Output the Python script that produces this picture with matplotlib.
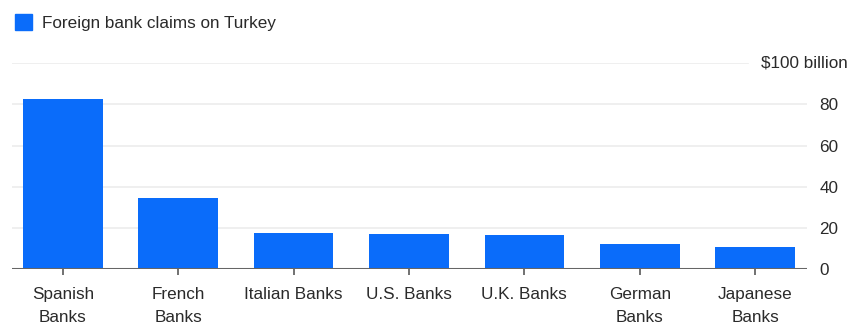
import matplotlib
matplotlib.use("Agg")
import matplotlib.pyplot as plt
from matplotlib.patches import Patch

# data ($ billion)
banks = ["Spanish\nBanks", "French\nBanks", "Italian Banks", "U.S. Banks",
         "U.K. Banks", "German\nBanks", "Japanese\nBanks"]
claims = [82.7, 34.4, 17.8, 17.1, 16.6, 12.5, 10.7]
yticks = [0, 20, 40, 60, 80]
legend_label = "Foreign bank claims on Turkey"
top_label = "$100 billion"

blue = "#0a6cfa"
text_col = "#2a2a2a"
fs = 12.3

plt.rcParams["font.family"] = ["Liberation Sans", "DejaVu Sans"]

W, H = 861, 322
fig = plt.figure(figsize=(W / 100, H / 100), dpi=100)
left, right = 12, 807
bottom, top = 269.3, 63
ax = fig.add_axes([left / W, (H - bottom) / H, (right - left) / W, (bottom - top) / H])

x = range(len(banks))
ax.bar(x, claims, width=0.69, color=blue, zorder=3)

ax.set_xlim(-0.44, 6.45)
ax.set_ylim(0, 100)

# gridlines
for v in yticks[1:]:
    ax.axhline(v, color="#ececec", lw=1.2, zorder=1)
ax.axhline(100, xmax=(748 - left) / (right - left), color="#ececec", lw=1.2, zorder=1)
ax.axhline(0, color="#666666", lw=2.2, zorder=4)

ax.set_xticks(list(x))
ax.set_xticklabels(banks, fontsize=fs, color=text_col, linespacing=1.65,
                   va="top")
ax.tick_params(axis="x", length=4, width=1.3, color="#666666", pad=9)

ax.yaxis.tick_right()
ax.set_yticks(yticks)
ax.set_yticklabels([str(v) for v in yticks], fontsize=fs, color=text_col, ha="left")
ax.tick_params(axis="y", length=0, pad=9)

ax.annotate(top_label, xy=(1, 100), xycoords=("axes fraction", "data"),
            xytext=(41, 0), textcoords="offset pixels", ha="right", va="center",
            fontsize=fs, color=text_col)

for s in ax.spines.values():
    s.set_visible(False)

fig.legend(handles=[Patch(color=blue, label=legend_label)], loc="upper left",
           bbox_to_anchor=(0, 1 + 1 / H), frameon=False, fontsize=fs,
           handlelength=1.0, handleheight=1.0, handletextpad=0.55,
           labelcolor=text_col)

fig.savefig("out.png", dpi=100)
